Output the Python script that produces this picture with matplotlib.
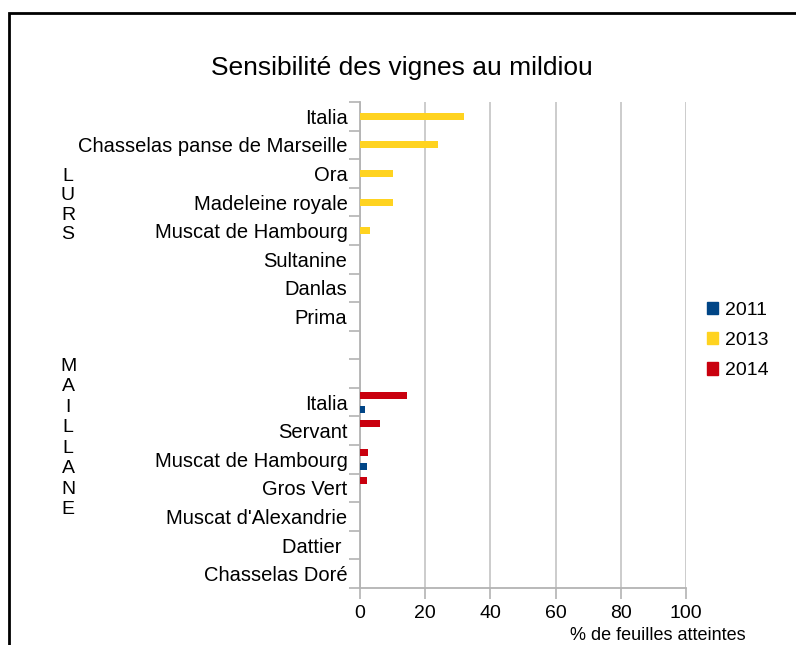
import matplotlib
matplotlib.use("Agg")
import matplotlib.pyplot as plt
from matplotlib.patches import Rectangle
import numpy as np

plt.rcParams['font.family'] = ['Liberation Sans', 'DejaVu Sans']

categories = ["Italia", "Chasselas panse de Marseille", "Ora", "Madeleine royale",
              "Muscat de Hambourg", "Sultanine", "Danlas", "Prima", "", "",
              "Italia", "Servant", "Muscat de Hambourg", "Gros Vert",
              "Muscat d'Alexandrie", "Dattier ", "Chasselas Doré"]
v2011 = [0, 0, 0, 0, 0, 0, 0, 0, 0, 0, 1.6, 0, 2, 0, 0, 0, 0]
v2013 = [32, 24, 10, 10, 3, 0, 0, 0, 0, 0, 0, 0, 0, 0, 0, 0, 0]
v2014 = [0, 0, 0, 0, 0, 0, 0, 0, 0, 0, 14.5, 6, 2.6, 2.2, 0, 0, 0]
series_names = ["2011", "2013", "2014"]
colors = ["#004586", "#ffd320", "#c9000e"]
xticks = [0, 20, 40, 60, 80, 100]

W, H = 796, 645
fig = plt.figure(figsize=(W/100, H/100), dpi=100)
ax = fig.add_axes([360/W, 1-588/H, (686-360)/W, (588-102)/H])

y = np.arange(len(categories))
h = 0.245
for vals, off, c, name in [(v2011, h, colors[0], series_names[0]),
                           (v2013, 0, colors[1], series_names[1]),
                           (v2014, -h, colors[2], series_names[2])]:
    ax.barh(y + off, vals, height=h, color=c, label=name, zorder=3)

ax.set_xlim(0, 100)
ax.set_ylim(len(categories)-0.5, -0.5)
ax.set_xticks(xticks)
ax.set_xticklabels([str(t) for t in xticks], fontsize=14)
ax.set_yticks(np.arange(len(categories)+1) - 0.5)
ax.set_yticklabels([])
ax.set_yticks(y, minor=True)
ax.set_yticklabels(categories, minor=True, fontsize=14.5)
ax.tick_params(axis='y', which='minor', length=0, pad=9)
ax.tick_params(axis='y', which='major', length=8, color='#b3b3b3', width=1.2)
ax.tick_params(axis='x', length=8, color='#b3b3b3', width=1.2, pad=4)
ax.grid(axis='x', color='#c8c8c8', linewidth=1.3, zorder=0)
for s in ['top', 'right']:
    ax.spines[s].set_visible(False)
for s in ['left', 'bottom']:
    ax.spines[s].set_color('#b3b3b3')
    ax.spines[s].set_linewidth(1.3)

fig.text(402/W, 1-68/H, "Sensibilité des vignes au mildiou", fontsize=19,
         ha='center', va='center')
fig.text(658/W, 1-636/H, "% de feuilles atteintes", fontsize=13,
         ha='center', va='center')
fig.text(68/W, 1-205.5/H, "L\nU\nR\nS", fontsize=14, ha='center', va='center',
         linespacing=1.17)
fig.text(68/W, 1-438/H, "M\nA\nI\nL\nL\nA\nN\nE", fontsize=14, ha='center',
         va='center', linespacing=1.27)

leg = fig.legend(handles=[Rectangle((0, 0), 1, 1, color=c) for c in colors],
                 labels=series_names, loc='upper left',
                 bbox_to_anchor=(699/W, 1-294/H), frameon=False, fontsize=14,
                 handlelength=0.6, handleheight=0.6, handletextpad=0.35,
                 labelspacing=0.68, borderaxespad=0)

fig.add_artist(Rectangle((9/W, -0.1), 1.2, 1-13/H+0.1, transform=fig.transFigure,
                         fill=False, edgecolor='black', linewidth=2))

fig.savefig("out.png", dpi=100)
